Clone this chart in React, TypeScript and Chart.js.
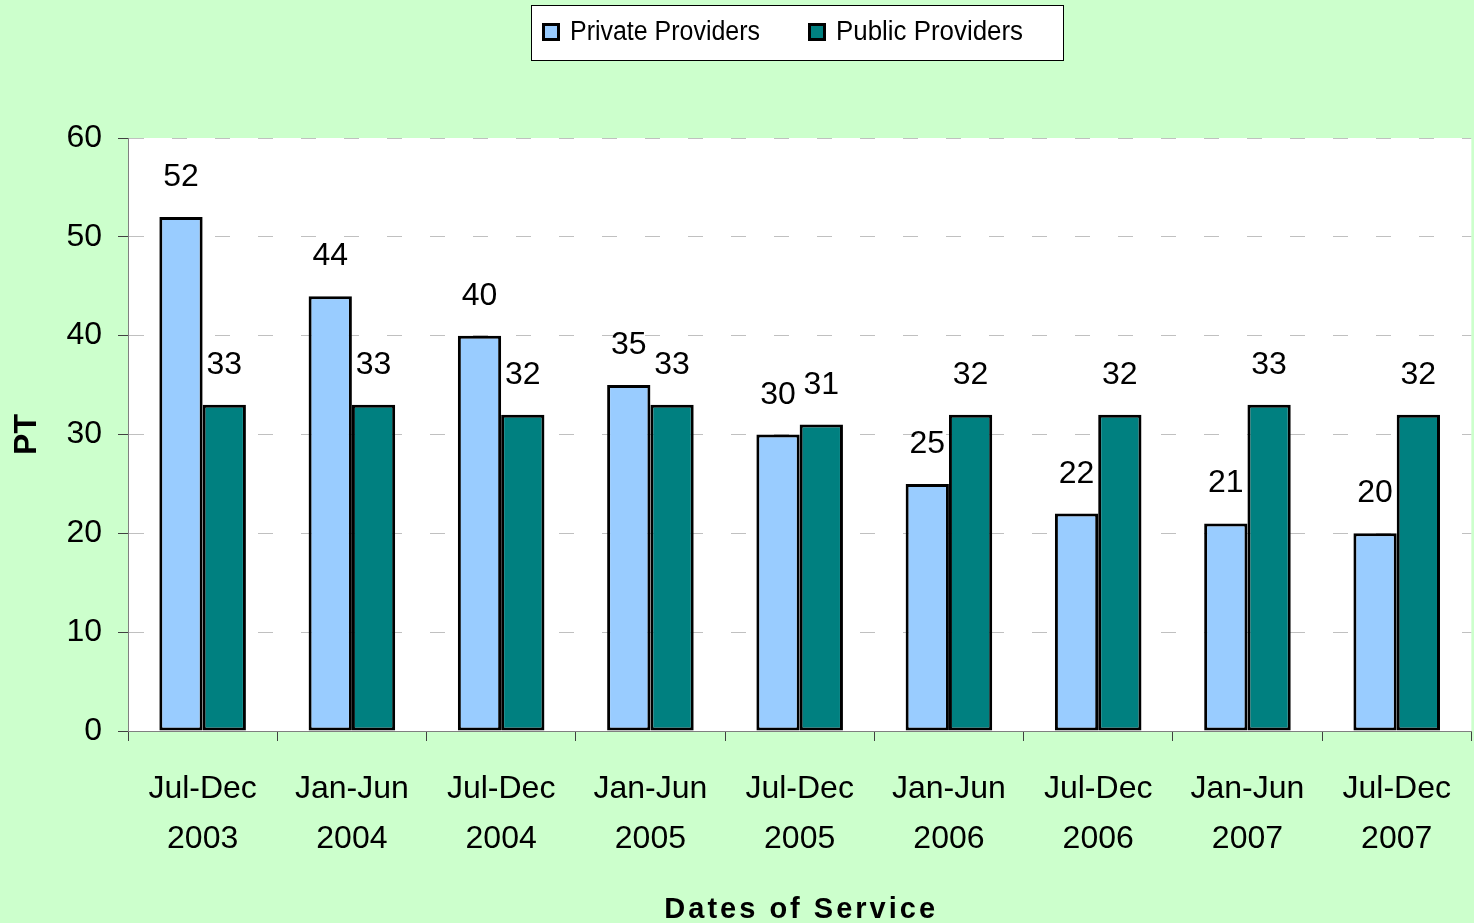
import React, { useEffect, useRef } from "react";
import { Chart, registerables } from "chart.js";

Chart.register(...registerables);

const categories: string[][] = [
  ["Jul-Dec", "2003"],
  ["Jan-Jun", "2004"],
  ["Jul-Dec", "2004"],
  ["Jan-Jun", "2005"],
  ["Jul-Dec", "2005"],
  ["Jan-Jun", "2006"],
  ["Jul-Dec", "2006"],
  ["Jan-Jun", "2007"],
  ["Jul-Dec", "2007"],
];
const privateProviders = [52, 44, 40, 35, 30, 25, 22, 21, 20];
const publicProviders = [33, 33, 32, 33, 31, 32, 32, 33, 32];
const seriesNames = ["Private Providers", "Public Providers"];
const seriesColors = ["#99CCFF", "#008080"];
const yAxisTitle = "PT";
const xAxisTitle = "Dates of Service";
const yMin = 0;
const yMax = 60;
const yStep = 10;

const FONT = '"Liberation Sans", Arial, sans-serif';

const backgroundPlugin = {
  id: "bg",
  beforeDraw(chart: any) {
    const { ctx, chartArea, width, height } = chart;
    ctx.save();
    ctx.fillStyle = "#CCFFCC";
    ctx.fillRect(0, 0, width, height);
    ctx.fillStyle = "#FFFFFF";
    ctx.fillRect(chartArea.left, chartArea.top, chartArea.right - chartArea.left, chartArea.bottom - chartArea.top);
    ctx.restore();
  },
};

const valueLabelPlugin = {
  id: "valueLabels",
  afterDatasetsDraw(chart: any) {
    const { ctx } = chart;
    ctx.save();
    ctx.font = `32px ${FONT}`;
    ctx.fillStyle = "#000";
    ctx.textAlign = "center";
    ctx.textBaseline = "alphabetic";
    chart.data.datasets.forEach((ds: any, i: number) => {
      const meta = chart.getDatasetMeta(i);
      meta.data.forEach((el: any, j: number) => {
        ctx.fillText(String(ds.data[j]), el.x, el.y - 31);
      });
    });
    ctx.restore();
  },
};

const legendPlugin = {
  id: "boxLegend",
  afterDraw(chart: any) {
    const { ctx } = chart;
    ctx.save();
    ctx.fillStyle = "#FFFFFF";
    ctx.fillRect(531, 5, 532, 55);
    ctx.strokeStyle = "#000";
    ctx.lineWidth = 1;
    ctx.strokeRect(531.5, 5.5, 532, 55);
    const itemX = [543.5, 809.5];
    const textWidths = [190, 187];
    chart.data.datasets.forEach((ds: any, i: number) => {
      const x = itemX[i];
      ctx.fillStyle = ds.backgroundColor;
      ctx.fillRect(x, 24.5, 15, 15);
      ctx.lineWidth = 3;
      ctx.strokeStyle = "#000";
      ctx.strokeRect(x, 24.5, 15, 15);
      ctx.save();
      ctx.font = `27px ${FONT}`;
      ctx.fillStyle = "#000";
      ctx.textAlign = "left";
      ctx.textBaseline = "alphabetic";
      const w = ctx.measureText(ds.label).width;
      ctx.translate(x + 26.5, 40);
      ctx.scale(textWidths[i] / w, 1);
      ctx.fillText(ds.label, 0, 0);
      ctx.restore();
    });
    ctx.restore();
  },
};

const xTitlePlugin = {
  id: "xTitle",
  afterDraw(chart: any) {
    const { ctx, chartArea } = chart;
    ctx.save();
    ctx.font = `bold 29px ${FONT}`;
    (ctx as any).letterSpacing = "3px";
    ctx.fillStyle = "#000";
    ctx.textAlign = "center";
    ctx.textBaseline = "alphabetic";
    ctx.fillText(xAxisTitle, (chartArea.left + chartArea.right) / 2 + 1.5, 918);
    ctx.restore();
  },
};

export default function App() {
  const canvasRef = useRef<HTMLCanvasElement | null>(null);

  useEffect(() => {
    document.body.style.margin = "0";
    const canvas = canvasRef.current;
    if (!canvas) return;
    const barStyle = {
      borderColor: "#000",
      borderWidth: 3,
      borderSkipped: false,
      categoryPercentage: 0.58,
      barPercentage: 1,
    };
    const chart = new Chart(canvas, {
      type: "bar",
      data: {
        labels: categories,
        datasets: [
          { label: seriesNames[0], data: privateProviders, backgroundColor: seriesColors[0], ...barStyle },
          { label: seriesNames[1], data: publicProviders, backgroundColor: seriesColors[1], ...barStyle },
        ],
      },
      options: {
        animation: false,
        responsive: false,
        maintainAspectRatio: false,
        devicePixelRatio: 1,
        layout: { padding: { top: 138, left: 0, right: 1, bottom: 0 } },
        plugins: {
          legend: { display: false },
          tooltip: { enabled: false },
          title: { display: false },
        },
        scales: {
          x: {
            offset: true,
            grid: {
              display: true,
              drawOnChartArea: false,
              drawTicks: true,
              tickLength: 10,
              tickColor: "#404040",
              offset: true,
            },
            border: { display: true, color: "#808080", width: 1 },
            ticks: {
              color: "#000",
              font: { family: FONT, size: 32, lineHeight: 1.56 },
              padding: 23,
              maxRotation: 0,
              autoSkip: false,
            },
            afterFit(scale: any) {
              scale.height = 192;
            },
          },
          y: {
            min: yMin,
            max: yMax,
            ticks: {
              stepSize: yStep,
              color: "#000",
              font: { family: FONT, size: 32 },
              padding: 16,
            },
            grid: {
              color: "#C0C0C0",
              lineWidth: 1,
              tickLength: 10,
              tickColor: "#404040",
              tickBorderDash: [],
            },
            border: { display: true, color: "#808080", width: 1, dash: [15, 28] },
            title: {
              display: true,
              text: yAxisTitle,
              color: "#000",
              font: { family: FONT, size: 32, weight: "bold", lineHeight: 1 },
              padding: { top: 11, bottom: 0 },
            },
            afterFit(scale: any) {
              scale.width = 128;
            },
          },
        },
      },
      plugins: [backgroundPlugin, valueLabelPlugin, legendPlugin, xTitlePlugin],
    } as any);
    return () => chart.destroy();
  }, []);

  return (
    <div style={{ width: 1474, height: 923 }}>
      <canvas ref={canvasRef} width={1474} height={923} style={{ display: "block" }} />
    </div>
  );
}
